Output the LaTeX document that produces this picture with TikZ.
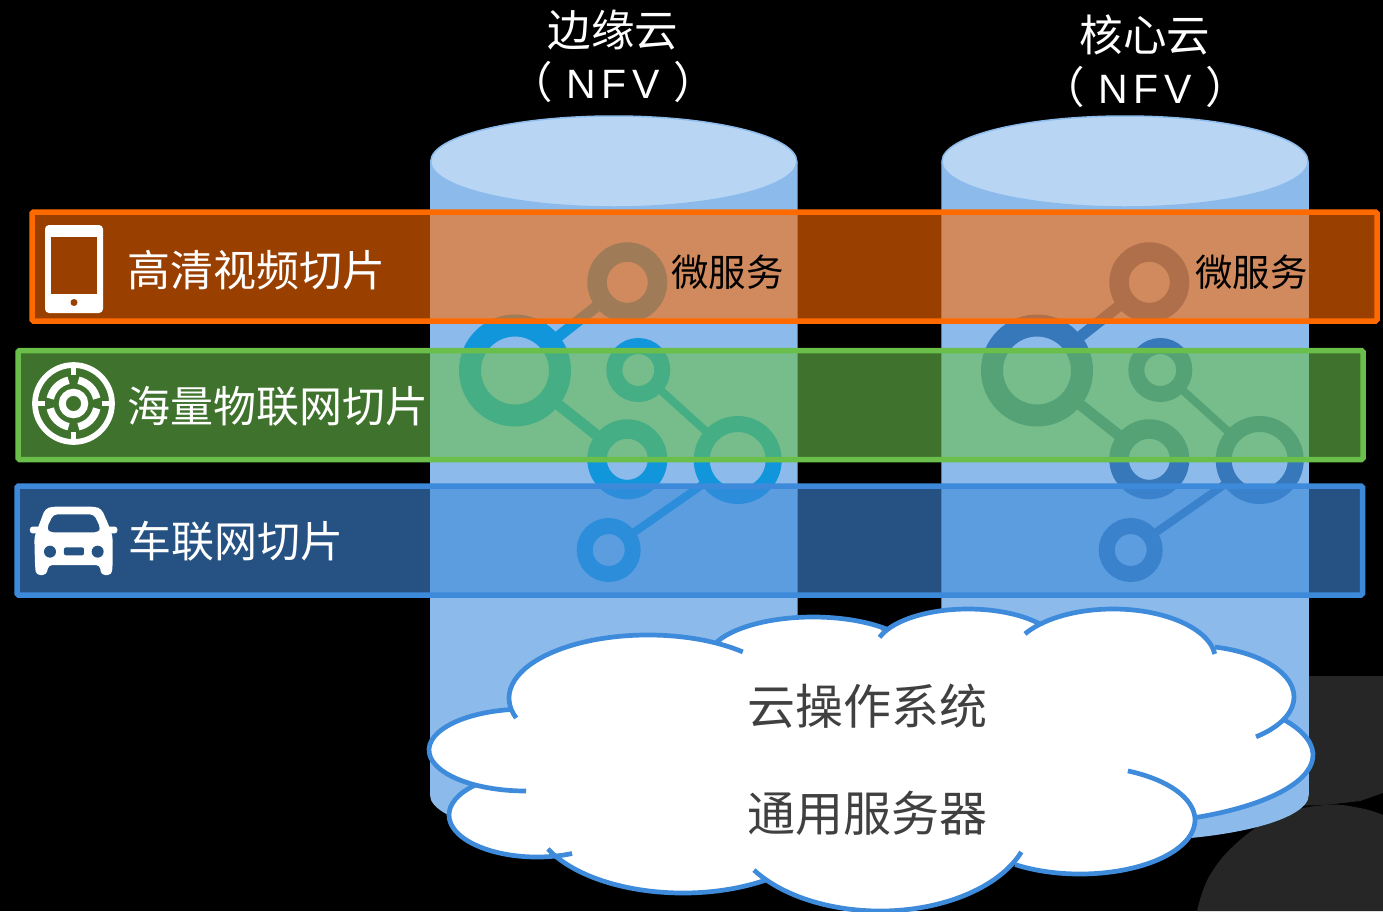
\documentclass[tikz,border=0pt]{standalone}
\usepackage{fontspec}
\setmainfont{Noto Sans CJK SC}
\newfontfamily\latinfont{Liberation Sans}
\definecolor{cylbody}{HTML}{8BBAEB}
\definecolor{cyltop}{HTML}{B8D6F4}
\definecolor{bandorange}{HTML}{FF6A00}
\definecolor{bandgreen}{HTML}{6ABF4B}
\definecolor{bandblue}{HTML}{3E8ADA}
\definecolor{iconone}{HTML}{1296DB}
\definecolor{icontwo}{HTML}{3778BB}
\definecolor{cloudline}{HTML}{3E8BDB}
\definecolor{darkshape}{HTML}{262626}
\definecolor{cloudtext}{HTML}{404040}
\tikzset{
  band/.style={line width=5.5pt,rounded corners=1.5pt,fill opacity=0.6},
  ringnode/.style={circle,inner sep=0pt,fill=none},
  link/.style={shorten <=-3pt,shorten >=-3pt},
  label/.style={inner sep=0pt,text=white,anchor=west,font=\fontsize{43}{50}\selectfont},
  head/.style={inner sep=0pt,text=white,font=\fontsize{43.5}{50}\selectfont},
  micro/.style={inner sep=0pt,text=black,font=\fontsize{37.5}{44}\selectfont},
  cloudlabel/.style={inner sep=0pt,text=cloudtext,font=\fontsize{48}{56}\selectfont},
}
\newcommand{\cylindershape}[1]{%
  \fill[cylbody] (#1-183.75,161.5) -- (#1-183.75,795)
    arc[start angle=180,end angle=360,x radius=183.75pt,y radius=46pt]
    -- (#1+183.75,161.5) -- cycle;
  \draw[cylbody,fill=cyltop,line width=1.5pt] (#1,161.5) ellipse [x radius=183pt,y radius=45.5pt];
}
\newcommand{\iconset}[3]{%
  \begin{scope}[shift={(#2,0)},draw=#3]
    \node[ringnode,draw=#3,minimum size=60.5pt,line width=19.5pt] (#1top) at (627.3,282.3) {};
    \node[ringnode,draw=#3,minimum size=90pt,line width=22pt] (#1big) at (515,370.5) {};
    \node[ringnode,draw=#3,minimum size=48pt,line width=16pt] (#1mid) at (638.3,370) {};
    \node[ringnode,draw=#3,minimum size=60.5pt,line width=19.5pt] (#1low) at (627.3,459.3) {};
    \node[ringnode,draw=#3,minimum size=72pt,line width=16pt] (#1right) at (737.7,460) {};
    \node[ringnode,draw=#3,minimum size=48pt,line width=16pt] (#1bot) at (608.7,550) {};
    \draw[link,#3,line width=11pt] (#1big) -- (#1top);
    \draw[link,#3,line width=11pt] (#1big) -- (#1low);
    \draw[link,#3,line width=8pt] (#1mid) -- (#1right);
    \draw[link,#3,line width=8pt] (#1right) -- (#1bot);
  \end{scope}
}
% one cloud arc: centre x, centre y, x radius, y radius, start and end angle
\newcommand{\cloudarc}[7]{%
  \path[#1] ({#2+#4*cos(#6)},{#3-#5*sin(#6)}) arc[start angle=#6,end angle=#7,x radius=#4pt,y radius=#5pt];
}
\newcommand{\cloudarcs}[1]{%
  \cloudarc{#1}{526}{750}{97}{41}{99.5}{270}
  \cloudarc{#1}{648}{698}{139}{63}{47}{198.5}
  \cloudarc{#1}{537}{815}{88}{42}{135}{293.5}
  \cloudarc{#1}{683}{815}{150}{78}{205.8}{304.1}
  \cloudarc{#1}{880}{820}{151}{91}{213.4}{339.4}
  \cloudarc{#1}{1080}{820}{115}{54}{235.6}{425.4}
  \cloudarc{#1}{1100}{755}{213}{70}{297.1}{389.7}
  \cloudarc{#1}{1190}{697}{104}{51.5}{309.4}{436.1}
  \cloudarc{#1}{1113}{660}{102.5}{51}{6.8}{149.2}
  \cloudarc{#1}{968}{650}{93}{41}{39.3}{162}
  \cloudarc{#1}{813}{660}{106}{43}{45.7}{155.3}
}
\newcommand{\cjkparen}{\fontsize{43.5}{50}\selectfont}
\newcommand{\nfv}{{\cjkparen（}\hspace{14pt}{\latinfont\fontsize{41}{50}\selectfont N\hspace{5.5pt}F\hspace{5.5pt}V}\hspace{14pt}{\cjkparen）}}
\begin{document}
\begin{tikzpicture}[x=1pt,y=-1pt]
\useasboundingbox (0,0) rectangle (1383,911);
\fill[black] (0,0) rectangle (1383,911);
% dark background shapes
\fill[darkshape] (1290,676) -- (1383,676) -- (1383,793) -- (1360,801) -- (1325,805) -- (1290,806) -- cycle;
\fill[darkshape] plot[smooth,tension=.7] coordinates {(1197,911)(1210,875)(1240,840)(1280,815)(1325,805)(1360,808)(1383,815)} -- (1383,911) -- cycle;
% cylinders
\cylindershape{613.75}
\cylindershape{1125}
% microservice icons
\iconset{l}{0}{iconone}
\iconset{r}{522}{icontwo}
% slices
\path[band,draw=bandblue,fill=bandblue,draw opacity=1] (17,486) rectangle (1362.5,595);
\path[band,draw=bandgreen,fill=bandgreen,draw opacity=1] (18,350.5) rectangle (1363,459.5);
\path[band,draw=bandorange,fill=bandorange,draw opacity=1] (32,212) rectangle (1377,321);
% phone icon
\fill[white,rounded corners=4pt] (45,225) rectangle (103,313);
\fill[bandorange!60!black] (51,237) rectangle (97,294);
\fill[bandorange!60!black] (74,302.5) circle (3.5pt);
% target icon
\begin{scope}[shift={(73.5,403.5)},white]
  \draw[line width=5.7pt] (0,0) circle (38.5pt);
  \draw[line width=7pt] (0,0) circle (11.2pt);
  \foreach \a in {0,90,180,270}{
    \draw[line width=7.5pt] (\a+12:23.7pt) arc[start angle=\a+12,end angle=\a+78,radius=23.7pt];
    \draw[line width=5.3pt] (\a:28.5pt) -- (\a:37pt);
  }
\end{scope}
% car icon
\begin{scope}[shift={(20,495)},scale=0.3333]
  \fill[white,even odd rule,rounded corners=4pt]
    (95,35) -- (225,35) -- (245,42) -- (268,95) -- (278,125)
    -- (278,210) -- (275,240) -- (243,240) -- (240,210) -- (85,210) -- (80,240) -- (48,240) -- (45,210) -- (43,125)
    -- (55,95) -- (75,42) -- cycle
    (100,58) -- (222,58) -- (242,100) -- (236,112) -- (88,112) -- (80,100) -- cycle;
  \fill[white,rounded corners=2.5pt] (30,95) rectangle (70,115);
  \fill[white,rounded corners=2.5pt] (252,95) rectangle (292,115);
  \fill[bandblue!60!black] (90,170) circle (18pt);
  \fill[bandblue!60!black] (233,170) circle (18pt);
  \fill[bandblue!60!black,rounded corners=2pt] (132,157) rectangle (192,181);
\end{scope}
% slice labels
\node[label] (videotext) at (127.5,270) {高清视频切片};
\node[label] (iottext) at (127.5,406) {海量物联网切片};
\node[label] (cartext) at (128,541) {车联网切片};
\node[micro] (micro1) at (727.5,272) {微服务};
\node[micro] (micro2) at (1251.5,272) {微服务};
% headings
\node[head] (edge) at (613,30) {边缘云};
\node[head] (edgenfv) at (613,82) {\nfv};
\node[head] (core) at (1145,35) {核心云};
\node[head] (corenfv) at (1145,87) {\nfv};
% cloud
\cloudarcs{fill=white}
\filldraw[white,line width=2.5pt] (512,712) -- (717,644) -- (802,625) -- (887,632) -- (960,620) -- (1040,626) -- (1213,649) -- (1283,720) -- (1250,775) -- (1197,815) -- (1015,863) -- (767,878) -- (650,880) -- (550,847) -- (495,828) -- (478,785) -- cycle;
\cloudarcs{draw=cloudline,line width=4.7pt}
\node[cloudlabel] (os) at (867,706) {云操作系统};
\node[cloudlabel] (server) at (867,813) {通用服务器};
\end{tikzpicture}
\end{document}
